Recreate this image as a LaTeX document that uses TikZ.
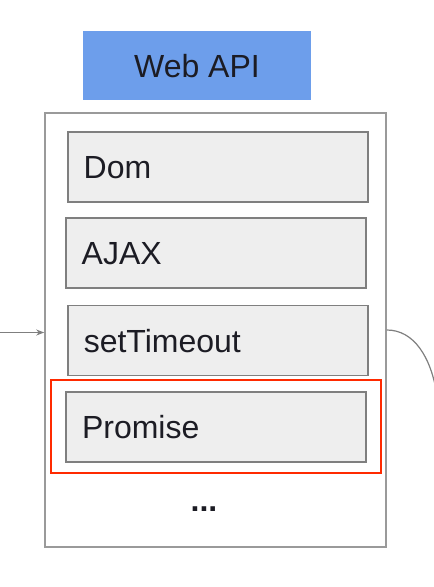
\documentclass[tikz,border=0pt]{standalone}
\usepackage{fontspec}
\setmainfont{Liberation Sans}
\usetikzlibrary{arrows.meta}
\definecolor{apiblue}{HTML}{6D9EEB}
\definecolor{itemfill}{HTML}{EEEEEE}
\definecolor{itemline}{HTML}{7F7F7F}
\definecolor{outerline}{HTML}{9A9A9A}
\definecolor{hlred}{HTML}{FF2A00}
\definecolor{txt}{HTML}{1C1C24}
\begin{document}
\begin{tikzpicture}[x=1pt,y=-1pt,
  big/.style={font=\fontsize{32}{38}\selectfont, text=txt},
  header/.style={big, fill=apiblue, inner sep=0, minimum width=228, minimum height=69, text height=23, text depth=0},
  container/.style={draw=outerline, line width=1.6pt, fill=white, inner sep=0, minimum width=341, minimum height=434},
  item/.style={big, draw=itemline, line width=1.8pt, fill=itemfill, inner xsep=16, inner ysep=0,
     minimum width=300, minimum height=70, text width=268, align=left, text height=23, text depth=0},
  highlight/.style={draw=hlred, line width=2pt, inner sep=0, minimum width=330, minimum height=93},
  conn/.style={draw=itemline, line width=1.2pt}
]
\useasboundingbox (0,0) rectangle (434,587);
\node[header] (api) at (197,65.5) {Web API};
\node[container] (outer) at (215.5,330) {};
\node[item] (dom) at (217.7,166.8) {Dom};
\node[item] (ajax) at (215.7,253) {AJAX};
\node[item] (timeout) at (217.8,340.5) {setTimeout};
\node[item] (promise) at (216,427) {Promise};
\node[highlight] (hl) at (216,426.5) {};
\node[big, font=\fontsize{32}{38}\selectfont\bfseries] (more) at (204,509) {...};
\coordinate (src) at (0,332.5);
\coordinate (dst) at (437,395);
\draw[conn, -{Stealth[length=8pt,width=6pt]}] (src) -- (src -| outer.west);
\draw[conn] (outer.east) .. controls (414,330) and (431,357) .. (dst);
\end{tikzpicture}
\end{document}
